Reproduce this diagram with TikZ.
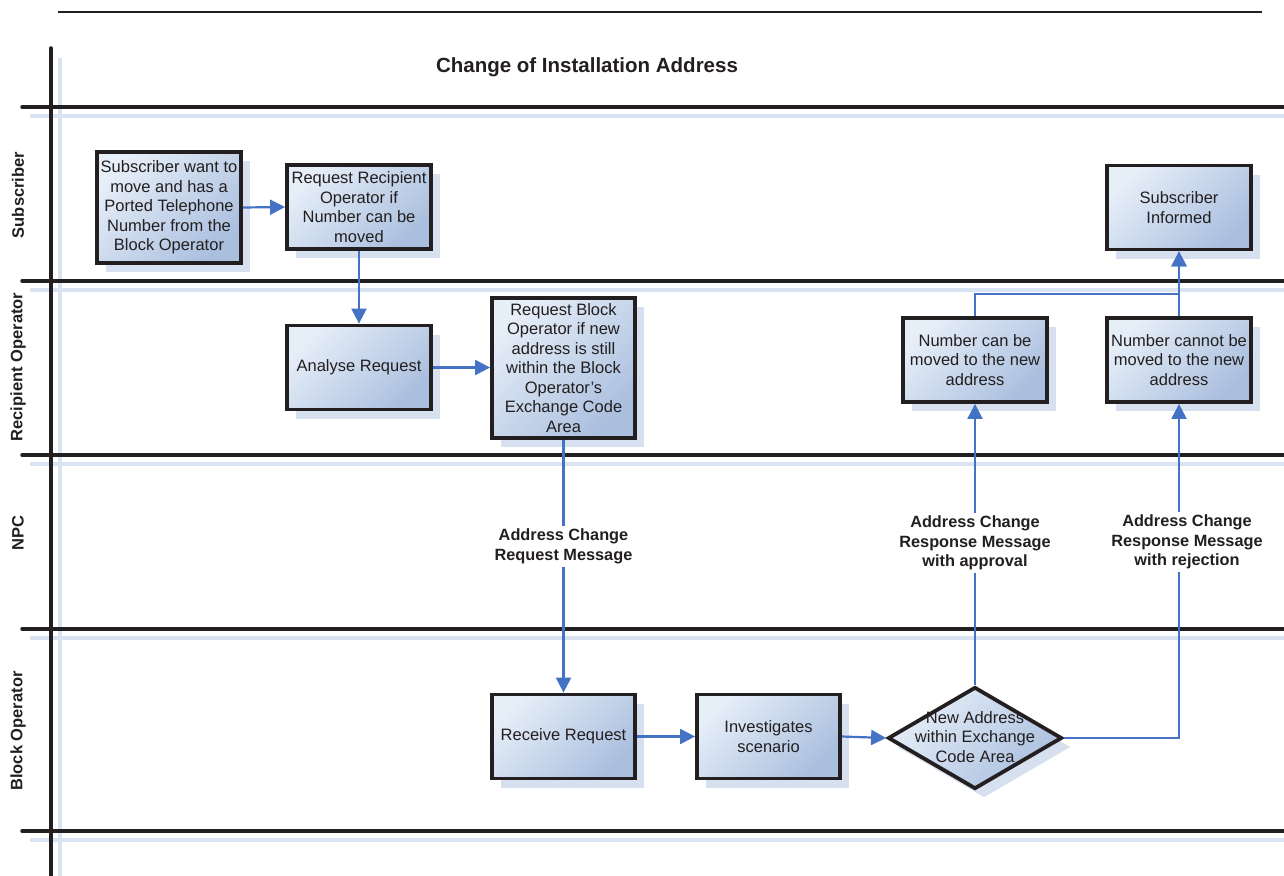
\documentclass[tikz,border=0pt]{standalone}
\usepackage{fontspec}
\setmainfont{Liberation Sans}
\usetikzlibrary{shapes.geometric,arrows.meta,shadows}
\definecolor{flowblue}{HTML}{4472C4}
\definecolor{boxlight}{HTML}{E6EEF8}
\definecolor{boxdark}{HTML}{AABFDE}
\definecolor{shadowblue}{HTML}{D6E0EF}
\definecolor{laneblue}{HTML}{DAE3F1}
\definecolor{ink}{HTML}{231F20}
\newcommand{\boxfont}{\fontsize{16.5}{19.5}\selectfont}
\newcommand{\lblfont}{\fontsize{16.3}{19.5}\selectfont\bfseries}
\tikzset{
  proc/.style={draw=ink, line width=3.8pt, top color=boxlight, bottom color=boxdark,
    shading angle=45, align=center, font=\boxfont, text=ink, inner sep=2pt,
    minimum width=144pt, minimum height=84pt,
    general shadow={fill=shadowblue, shadow xshift=9pt, shadow yshift=-9pt}},
  decision/.style={diamond, draw=ink, line width=3.8pt, top color=boxlight, bottom color=boxdark,
    shading angle=45, inner sep=0pt, minimum width=174pt, minimum height=102pt,
    general shadow={fill=shadowblue, shadow xshift=9pt, shadow yshift=-9pt}},
  flow/.style={draw=flowblue, line width=2.2pt, -{Triangle[length=15pt,width=15pt]}},
  lbl/.style={fill=white, align=center, font=\lblfont, text=ink, inner sep=3pt},
  lane/.style={draw=ink, line width=3.5pt, line cap=round},
  laneshadow/.style={draw=laneblue, line width=4pt},
  lanelabel/.style={rotate=90, font=\fontsize{16.5}{19.5}\selectfont\bfseries, text=ink}
}
\begin{document}
\begin{tikzpicture}[x=1pt,y=-1pt]
\useasboundingbox (0,0) rectangle (1284,875);
% header rule
\draw[ink, line width=2pt] (58,12) -- (1262,12);
% lane shadow lines
\draw[laneshadow] (60,58) -- (60,880);
\foreach \yy in {116,290,464,638,840} {\draw[laneshadow] (30,\yy) -- (1290,\yy);}
% lane lines
\draw[lane] (51,48) -- (51,885);
\foreach \yy in {107,281,455,629,831} {\draw[lane] (22,\yy) -- (1295,\yy);}
% title and lane labels
\node[font=\fontsize{20.5}{24}\selectfont\bfseries, text=ink] (title) at (587,67) {Change of Installation Address};
\node[lanelabel] (lsub) at (18,195) {Subscriber};
\node[lanelabel] (lrec) at (18,367) {Recipient Operator};
\node[lanelabel] (lnpc) at (18,533) {NPC};
\node[lanelabel] (lblk) at (18,731) {Block Operator};
% process nodes
\node[proc, minimum height=111pt] (n1) at (169,207.5) {Subscriber want to\\move and has a\\Ported Telephone\\Number from the\\Block Operator};
\node[proc] (n2) at (359,207) {Request Recipient\\Operator if\\Number can be\\moved};
\node[proc] (n3) at (359,367.5) {Analyse Request};
\node[proc, minimum width=143pt, minimum height=140pt] (n4) at (563.5,368) {Request Block\\Operator if new\\address is still\\within the Block\\Operator’s\\Exchange Code\\Area};
\node[proc] (n5) at (975,360) {Number can be\\moved to the new\\address};
\node[proc] (n6) at (1179,360) {Number cannot be\\moved to the new\\address};
\node[proc] (n7) at (1179,207.5) {Subscriber\\Informed};
\node[proc, minimum width=143pt] (n8) at (563.5,736.5) {Receive Request};
\node[proc, minimum width=143pt] (n9) at (768.5,736.5) {Investigates\\scenario};
\node[decision] (d) at (975,738) {};
\node[align=center, font=\boxfont, text=ink] (dtext) at (975,737) {New Address\\within Exchange\\Code Area};
% connectors
\draw[flow] (n1.east) -- (n2.west);
\draw[flow] (n2.south) -- (n3.north);
\draw[flow] (n3.east) -- (n4.west |- n3.east);
\draw[flow] (n4.south) -- node[lbl, pos=0.421] (m1) {Address Change\\Request Message} (n8.north);
\draw[flow] (n8.east) -- (n9.west);
\draw[flow] (n9.east) -- (d.west);
\draw[flow] (d.north) -- node[lbl, pos=0.505] (m2) {Address Change\\Response Message\\with approval} (n5.south);
\draw[flow] (d.east) -| node[lbl, pos=0.793, xshift=8pt] (m3) {Address Change\\Response Message\\with rejection} (n6.south);
\draw[flow] (n5.north) -- ++(0,-22) -| (n7.south);
\draw[flow] (n6.north) -- (n7.south);
\end{tikzpicture}
\end{document}
